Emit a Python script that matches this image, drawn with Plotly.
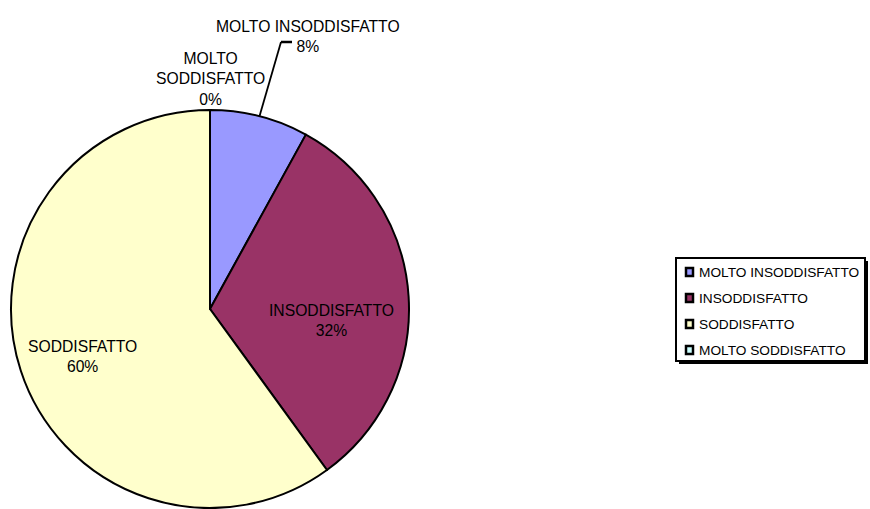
import math
import plotly.graph_objects as go

# Survey answers and their share of responses (%)
categories = ["MOLTO INSODDISFATTO", "INSODDISFATTO", "SODDISFATTO", "MOLTO SODDISFATTO"]
values = [8, 32, 60, 0]
colors = ["#9999FF", "#993366", "#FFFFCC", "#CCFFFF"]

W, H = 870, 509
CX, CY, R = 210, 309, 199  # pie centre and radius, in pixels


def px(x):
    return x / W


def py(y):
    return 1 - y / H


total = sum(values)
pct = [round(100 * v / total) for v in values]

fig = go.Figure(
    go.Pie(
        labels=categories,
        values=values,
        sort=False,
        direction="clockwise",
        rotation=0,
        marker=dict(colors=colors, line=dict(color="black", width=2)),
        textinfo="none",
        hoverinfo="label+percent",
        showlegend=False,
        domain=dict(x=[px(CX - R), px(CX + R)], y=[py(CY + R), py(CY - R)]),
    )
)

font = dict(family="Liberation Sans, Arial, sans-serif", size=15.7, color="black")
annotations = []
shapes = []

# Inside labels
inside_pos = {1: (331, 320), 2: (82, 356)}
for i, (x, y) in inside_pos.items():
    annotations.append(dict(
        x=px(x), y=py(y), xref="paper", yref="paper", showarrow=False,
        text=f"{categories[i]}<br>{pct[i]}%", font=font, align="center",
        xanchor="center", yanchor="middle",
    ))

# Outside label for the first slice, with a leader line from the rim
mid = 2 * math.pi * (values[0] / 2) / total
ex, ey = CX + R * math.sin(mid), CY - R * math.cos(mid)
kx, ky = 281, 42
shapes.append(dict(type="line", xref="paper", yref="paper",
                   x0=px(ex), y0=py(ey), x1=px(kx), y1=py(ky),
                   line=dict(color="black", width=1.8)))
shapes.append(dict(type="line", xref="paper", yref="paper",
                   x0=px(kx), y0=py(ky), x1=px(kx + 11), y1=py(ky),
                   line=dict(color="black", width=2.5)))
annotations.append(dict(
    x=px(308), y=py(36), xref="paper", yref="paper", showarrow=False,
    text=f"{categories[0]}<br>{pct[0]}%", font=font, align="center",
    xanchor="center", yanchor="middle",
))

# Label for the empty slice, above the top of the pie
annotations.append(dict(
    x=px(210), y=py(79), xref="paper", yref="paper", showarrow=False,
    text="MOLTO<br>SODDISFATTO<br>" + f"{pct[3]}%", font=font, align="center",
    xanchor="center", yanchor="middle",
))

# Legend box with drop shadow
LX0, LY0, LX1, LY1 = 676, 258, 865, 361
shapes.append(dict(type="rect", xref="paper", yref="paper",
                   x0=px(LX0 + 3), y0=py(LY1 + 3), x1=px(LX1 + 3), y1=py(LY0 + 3),
                   fillcolor="black", line=dict(width=0)))
shapes.append(dict(type="rect", xref="paper", yref="paper",
                   x0=px(LX0), y0=py(LY1), x1=px(LX1), y1=py(LY0),
                   fillcolor="white", line=dict(color="black", width=2)))
legend_font = dict(family="Liberation Sans, Arial, sans-serif", size=13.7, color="black")
for k, (name, col) in enumerate(zip(categories, colors)):
    yc = 272 + 26 * k
    shapes.append(dict(type="rect", xref="paper", yref="paper",
                       x0=px(686), y0=py(yc + 4), x1=px(693), y1=py(yc - 4),
                       fillcolor=col, line=dict(color="black", width=2.5)))
    annotations.append(dict(
        x=px(697), y=py(yc), xref="paper", yref="paper", showarrow=False,
        text=name, font=legend_font, xanchor="left", yanchor="middle",
    ))

fig.update_layout(
    width=W, height=H,
    margin=dict(l=0, r=0, t=0, b=0),
    paper_bgcolor="white", plot_bgcolor="white",
    annotations=annotations, shapes=shapes,
)

fig.write_html("out.html")
